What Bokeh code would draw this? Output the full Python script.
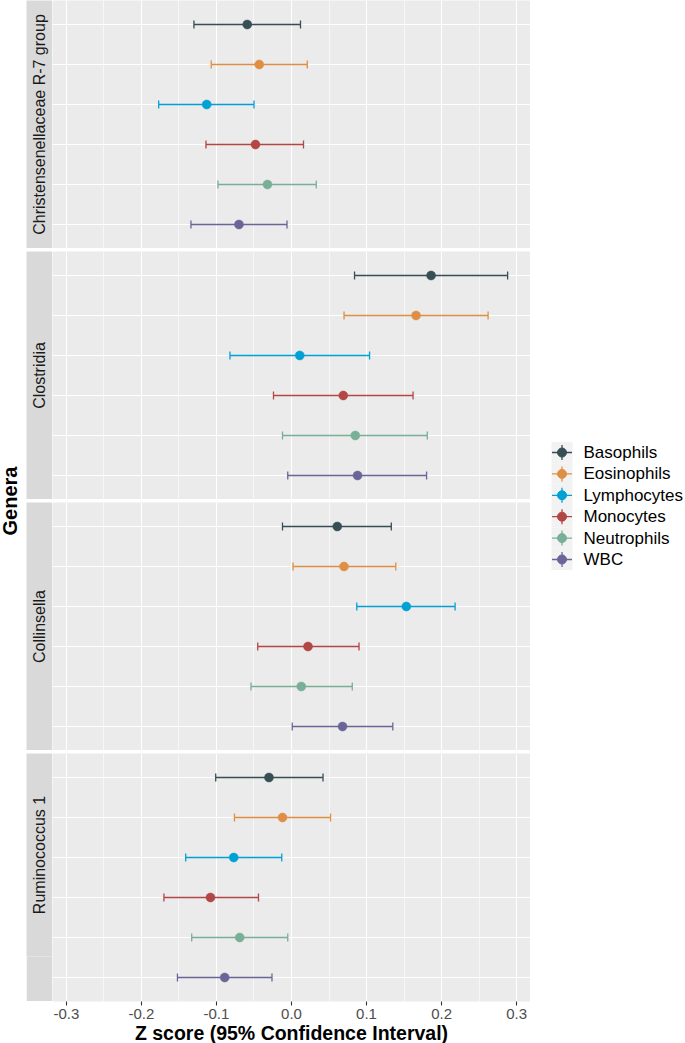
import math
from bokeh.plotting import figure
from bokeh.models import (Range1d, Grid, FixedTicker, Label, ColumnDataSource, Spacer,
                          LinearAxis, PrintfTickFormatter)
from bokeh.layouts import row, column
from bokeh.embed import file_html
from bokeh.resources import INLINE
from bokeh.core.properties import value

# ---------------- data ----------------
genera = ["Christensenellaceae R-7 group", "Clostridia", "Collinsella", "Ruminococcus 1"]
cell_types = ["Basophils", "Eosinophils", "Lymphocytes", "Monocytes", "Neutrophils", "WBC"]
colors = ["#374E55", "#DF8F44", "#00A1D5", "#B24745", "#79AF97", "#6A6599"]

z_christensenellaceae = [-0.059, -0.043, -0.113, -0.048, -0.032, -0.070]
lo_christensenellaceae = [-0.130, -0.107, -0.177, -0.114, -0.098, -0.134]
hi_christensenellaceae = [0.012, 0.021, -0.050, 0.016, 0.033, -0.006]

z_clostridia = [0.186, 0.166, 0.011, 0.069, 0.085, 0.088]
lo_clostridia = [0.084, 0.070, -0.082, -0.024, -0.012, -0.005]
hi_clostridia = [0.288, 0.262, 0.104, 0.162, 0.181, 0.180]

z_collinsella = [0.061, 0.070, 0.153, 0.022, 0.013, 0.068]
lo_collinsella = [-0.012, 0.002, 0.087, -0.045, -0.054, 0.001]
hi_collinsella = [0.133, 0.139, 0.218, 0.090, 0.081, 0.135]

z_ruminococcus = [-0.030, -0.012, -0.077, -0.108, -0.069, -0.089]
lo_ruminococcus = [-0.101, -0.076, -0.141, -0.170, -0.133, -0.152]
hi_ruminococcus = [0.042, 0.052, -0.013, -0.044, -0.005, -0.026]

x_ticks = [-0.3, -0.2, -0.1, 0.0, 0.1, 0.2, 0.3]

panels = [
    (genera[0], z_christensenellaceae, lo_christensenellaceae, hi_christensenellaceae),
    (genera[1], z_clostridia, lo_clostridia, hi_clostridia),
    (genera[2], z_collinsella, lo_collinsella, hi_collinsella),
    (genera[3], z_ruminococcus, lo_ruminococcus, hi_ruminococcus),
]

# ---------------- style ----------------
FONT = "Liberation Sans"
TITLE_W = 26
PANEL_W = 478
PANEL_H = 248
STRIP_W = 26
GAP = 3
PANEL_BG = "#EBEBEB"
STRIP_BG = "#D9D9D9"

n = len(cell_types)
ys = [n - i for i in range(n)]  # Basophils on top
minor_ticks = [(a + b) / 2 for a, b in zip(x_ticks[:-1], x_ticks[1:])]
minor_ticks = [x_ticks[0] - 0.05] + minor_ticks + [x_ticks[-1] + 0.05]
XR = (-0.3185, 0.3185)


def bare_figure(**kw):
    return figure(x_axis_type=None, y_axis_type=None, min_border=0,
                  min_border_left=0, min_border_right=0, min_border_top=0, min_border_bottom=0,
                  outline_line_color=None, toolbar_location=None, output_backend="svg", **kw)


def make_panel(z, lo, hi, bottom):
    p = bare_figure(frame_width=PANEL_W, frame_height=PANEL_H,
                    x_range=Range1d(*XR), y_range=Range1d(0.4, n + 0.6),
                    background_fill_color=PANEL_BG, border_fill_color="white")
    xt = FixedTicker(ticks=x_ticks, minor_ticks=minor_ticks)
    p.add_layout(Grid(dimension=0, ticker=xt, grid_line_color="white", grid_line_width=1.1,
                      minor_grid_line_color="white", minor_grid_line_width=0.6))
    p.add_layout(Grid(dimension=1, ticker=FixedTicker(ticks=ys), grid_line_color="white",
                      grid_line_width=1.1))
    src = ColumnDataSource(dict(y=ys, z=z, lo=lo, hi=hi, color=colors, label=cell_types))
    p.segment(x0="lo", y0="y", x1="hi", y1="y", line_color="color", line_width=1.3, source=src)
    p.scatter(x="lo", y="y", marker="dash", angle=math.pi / 2, size=8,
              line_color="color", line_width=1.3, source=src)
    p.scatter(x="hi", y="y", marker="dash", angle=math.pi / 2, size=8,
              line_color="color", line_width=1.3, source=src)
    p.scatter(x="z", y="y", marker="circle", size=9, fill_color="color",
              line_color="color", line_width=0.5, source=src)
    if bottom:
        ax = LinearAxis(ticker=xt, formatter=PrintfTickFormatter(format="%.1f"),
                        axis_label="Z score (95% Confidence Interval)",
                        axis_line_color=None,
                        major_tick_line_color="#333333", major_tick_line_width=1.1,
                        major_tick_out=4, major_tick_in=0,
                        minor_tick_line_color=None,
                        major_label_text_font=FONT, major_label_text_font_size="15px",
                        major_label_text_color="#4D4D4D", major_label_standoff=3,
                        axis_label_text_font=FONT, axis_label_text_font_size="19.5px",
                        axis_label_text_font_style="bold", axis_label_text_color="black",
                        axis_label_standoff=0)
        p.add_layout(ax, "below")
    return p


def make_strip(name):
    s = bare_figure(width=STRIP_W, height=PANEL_H, x_range=Range1d(0, 1), y_range=Range1d(0, 1),
                    background_fill_color=STRIP_BG, border_fill_color=STRIP_BG)
    s.add_layout(Label(x=0.5, y=0.5, text=name, angle=math.pi / 2, text_align="center",
                       text_baseline="middle", text_font=FONT, text_font_size="16px",
                       text_color="#1A1A1A"))
    return s


rows = []
for i, (name, z, lo, hi) in enumerate(panels):
    rows.append(row(make_strip(name), make_panel(z, lo, hi, i == len(panels) - 1), spacing=0))
panel_col = column(*rows, spacing=GAP)

# "Genera" axis title
total_h = len(panels) * PANEL_H + (len(panels) - 1) * GAP
g = bare_figure(width=TITLE_W, height=total_h, x_range=Range1d(0, TITLE_W), y_range=Range1d(0, 1),
                background_fill_color="white", border_fill_color="white")
g.add_layout(Label(x=9, y=0.5, text="Genera", angle=math.pi / 2, text_align="center",
                   text_baseline="middle", text_font=FONT, text_font_size="20px",
                   text_font_style="bold", text_color="black"))

# legend
LEG_W = 153
LEG_H = 129
leg = bare_figure(width=LEG_W, height=LEG_H, x_range=Range1d(0, LEG_W),
                  y_range=Range1d(n - 0.5 + 0.015, -0.5 - 0.015),
                  background_fill_color="white", border_fill_color="white")
lsrc = ColumnDataSource(dict(idx=list(range(n)), color=colors, label=cell_types,
                             kx=[31.5] * n, tx=[53] * n))
leg.rect(x="kx", y="idx", width=21, height=1.0, fill_color="#F2F2F2", line_color=None, source=lsrc)
leg.scatter(x="kx", y="idx", marker="dash", size=20, line_color="color", line_width=1.3, source=lsrc)
leg.scatter(x="kx", y="idx", marker="dash", angle=math.pi / 2, size=15, line_color="color",
            line_width=1.3, source=lsrc)
leg.scatter(x="kx", y="idx", marker="circle", size=9, fill_color="color", line_color="color",
            source=lsrc)
leg.text(x="tx", y="idx", text="label", text_font=value(FONT), text_font_size="17px",
         text_baseline="middle", text_align="left", text_color="black", source=lsrc)

legend_col = column(Spacer(width=LEG_W, height=441), leg, spacing=0)

layout = row(g, panel_col, legend_col, spacing=0)

open("out.html", "w").write(file_html(layout, INLINE))
